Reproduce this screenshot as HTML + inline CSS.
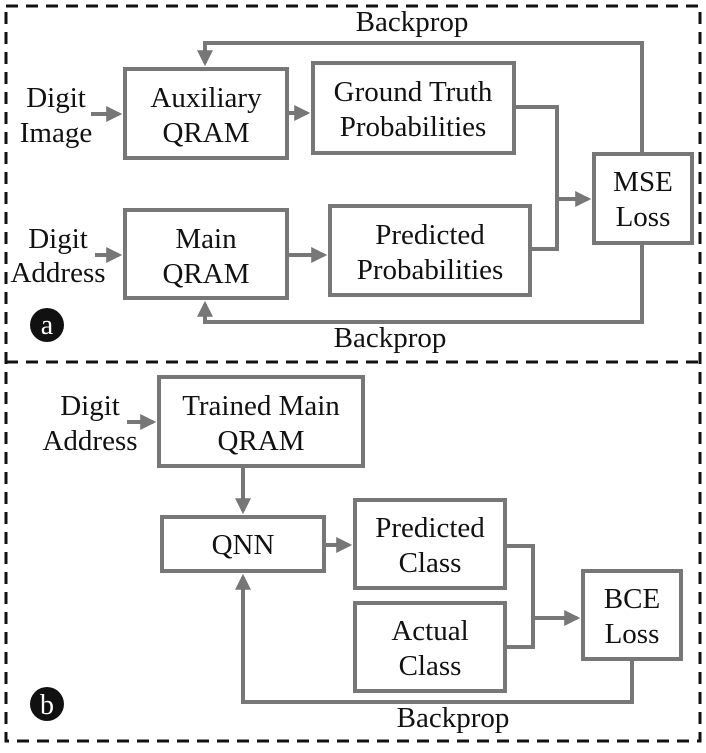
<!DOCTYPE html>
<html><head><meta charset="utf-8"><style>html,body{margin:0;padding:0;background:#fff}</style></head>
<body>
<svg width="706" height="748" viewBox="0 0 706 748" xmlns="http://www.w3.org/2000/svg" font-family="Liberation Serif, serif" font-size="29" text-anchor="middle">
<defs><marker id="ar" markerWidth="4" markerHeight="4" refX="3.2" refY="2" orient="auto" markerUnits="strokeWidth"><path d="M0,0 L4,2 L0,4 z" fill="#777"/></marker></defs>
<g fill="none" stroke="#111" stroke-width="3" stroke-dasharray="12,8">
<rect x="6" y="6" width="694" height="735"/>
<line x1="6" y1="362" x2="700" y2="362"/>
</g>
<g fill="none" stroke="#777" stroke-width="4">
<rect x="125" y="69" width="162" height="89"/>
<rect x="313" y="63" width="201" height="90"/>
<rect x="594" y="154" width="98" height="89"/>
<rect x="125" y="210" width="162" height="88"/>
<rect x="330" y="206" width="200" height="89"/>
<rect x="159" y="377" width="204" height="89"/>
<rect x="162" y="517" width="162" height="54"/>
<rect x="355" y="500" width="150" height="88"/>
<rect x="355" y="603" width="150" height="88"/>
<rect x="583" y="571" width="98" height="88"/>
<polyline points="642,154 642,43 205,43 205,63" marker-end="url(#ar)"/>
<polyline points="642,243 642,322 205,322 205,304" marker-end="url(#ar)"/>
<line x1="91" y1="114" x2="119" y2="114" marker-end="url(#ar)"/>
<line x1="95" y1="255" x2="119" y2="255" marker-end="url(#ar)"/>
<line x1="287" y1="113" x2="307" y2="113" marker-end="url(#ar)"/>
<line x1="287" y1="255" x2="324" y2="255" marker-end="url(#ar)"/>
<polyline points="514,107 557,107 557,249 530,249"/>
<line x1="557" y1="199" x2="588" y2="199" marker-end="url(#ar)"/>
<line x1="127" y1="422" x2="153" y2="422" marker-end="url(#ar)"/>
<line x1="243" y1="466" x2="243" y2="511" marker-end="url(#ar)"/>
<line x1="324" y1="545" x2="349" y2="545" marker-end="url(#ar)"/>
<polyline points="505,546 533,546 533,647 505,647"/>
<line x1="533" y1="618" x2="577" y2="618" marker-end="url(#ar)"/>
<polyline points="632,659 632,702 243,702 243,577" marker-end="url(#ar)"/>
</g>
<g fill="#111">
<text x="412" y="31">Backprop</text>
<text x="390" y="347">Backprop</text>
<text x="453" y="727">Backprop</text>
<text x="56" y="107">Digit</text><text x="56" y="142">Image</text>
<text x="58" y="248">Digit</text><text x="58" y="282">Address</text>
<text x="206" y="107">Auxiliary</text><text x="206" y="142">QRAM</text>
<text x="413" y="101">Ground Truth</text><text x="413" y="136">Probabilities</text>
<text x="643" y="191">MSE</text><text x="643" y="226">Loss</text>
<text x="206" y="248">Main</text><text x="206" y="283">QRAM</text>
<text x="430" y="244">Predicted</text><text x="430" y="279">Probabilities</text>
<text x="90" y="415">Digit</text><text x="90" y="450">Address</text>
<text x="261" y="415">Trained Main</text><text x="261" y="450">QRAM</text>
<text x="243" y="554">QNN</text>
<text x="430" y="537">Predicted</text><text x="430" y="572">Class</text>
<text x="430" y="640">Actual</text><text x="430" y="675">Class</text>
<text x="632" y="608">BCE</text><text x="632" y="643">Loss</text>
<circle cx="47" cy="325" r="17"/><circle cx="47" cy="704" r="17"/>
<text x="47" y="334" fill="#fff" font-size="28">a</text>
<text x="47" y="714" fill="#fff" font-size="28">b</text>
</g>
</svg>
</body></html>
